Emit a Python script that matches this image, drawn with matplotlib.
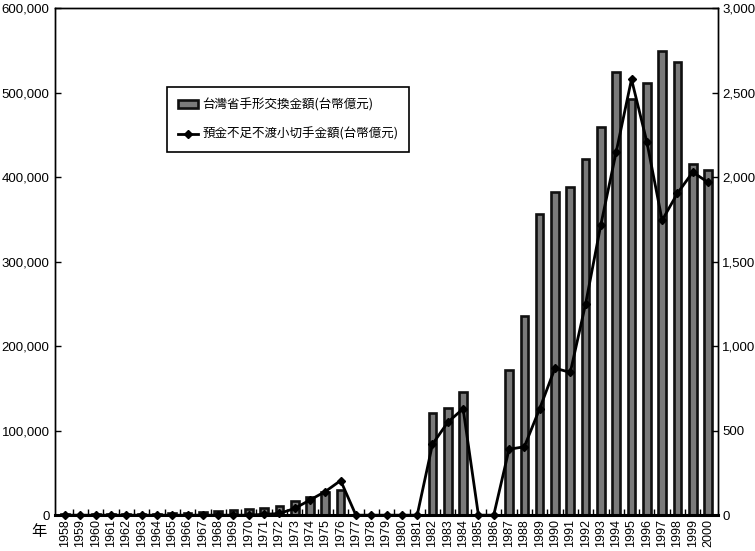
import matplotlib.pyplot as plt
from matplotlib.ticker import FuncFormatter, MultipleLocator
import numpy as np

plt.rcParams['font.family'] = ['Liberation Sans', 'Noto Sans CJK JP', 'DejaVu Sans']

# 年
years = list(range(1958, 2001))

# 台灣省手形交換金額(台幣億元) - 左軸
clearing = [1000, 800, 1000, 1200, 1300, 1500, 1800, 2200, 3000, 4000,
            4500, 6000, 7000, 8500, 10500, 17000, 21000, 27000, 29500, 0,
            0, 0, 0, 0, 120500, 126500, 145500, 0, 0, 172000,
            236000, 356000, 383000, 388000, 421000, 459000, 524000, 493000, 511000, 549000,
            536000, 416000, 409000]

# 預金不足不渡小切手金額(台幣億元) - 右軸
bounced = [0, 0, 0, 0, 0, 0, 0, 0, 0, 0,
           0, 0, 0, 5, 10, 40, 90, 140, 205, 0,
           0, 0, 0, 0, 420, 550, 630, 0, 0, 390,
           405, 630, 870, 845, 1250, 1720, 2150, 2580, 2210, 1745,
           1905, 2030, 1970]

label_bar = '台灣省手形交換金額(台幣億元)'
label_line = '預金不足不渡小切手金額(台幣億元)'

x = np.arange(len(years))

fig = plt.figure(figsize=(7.55, 5.51), dpi=100)
ax = fig.add_axes([0.073, 0.065, 0.878, 0.92])

# 棒グラフ(左軸)
bars = ax.bar(x, clearing, width=0.5, color='#7a7a7a', edgecolor='#101010',
              linewidth=1.9, zorder=2)
ax.set_ylim(0, 600000)
ax.set_xlim(-0.65, len(years) - 0.35)
ax.yaxis.set_major_locator(MultipleLocator(100000))
ax.yaxis.set_major_formatter(FuncFormatter(lambda v, p: f'{int(v):,}'))

# 折れ線(右軸)
ax2 = ax.twinx()
line, = ax2.plot(x, bounced, color='black', linewidth=2.0, marker='D',
                 markersize=4, clip_on=False, zorder=3)
ax2.set_ylim(0, 3000)
ax2.yaxis.set_major_locator(MultipleLocator(500))
ax2.yaxis.set_major_formatter(FuncFormatter(lambda v, p: f'{int(v):,}'))

# x軸: 年ラベル
ax.set_xticks(x)
ax.set_xticklabels([str(y) for y in years], rotation=90, fontsize=9)
ax.set_xticks(x[:-1] + 0.5, minor=True)
ax.tick_params(axis='x', which='major', length=0, pad=3)
ax.tick_params(axis='x', which='minor', length=4, direction='in', width=1)
ax.tick_params(axis='y', direction='in', length=4, labelsize=9.5, width=1, pad=4)
ax2.tick_params(axis='y', direction='in', length=4, labelsize=9.5, width=1, pad=3)

for a in (ax, ax2):
    for s in a.spines.values():
        s.set_linewidth(1.0)
ax2.spines['bottom'].set_linewidth(2.2)

fig.text(0.052, 0.036, '年', fontsize=11, ha='center', va='center',
         family=['Noto Sans CJK JP'])

leg = ax2.legend([bars, line], [label_bar, label_line],
                 loc='upper left', bbox_to_anchor=(0.169, 0.845),
                 prop={'family': ['Noto Sans CJK JP'], 'size': 9},
                 frameon=True, fancybox=False, edgecolor='black', framealpha=1,
                 handlelength=1.6, handletextpad=0.3, labelspacing=1.3,
                 borderpad=0.9, borderaxespad=0)
leg.get_frame().set_linewidth(1.2)

plt.savefig('out.png', dpi=100)
